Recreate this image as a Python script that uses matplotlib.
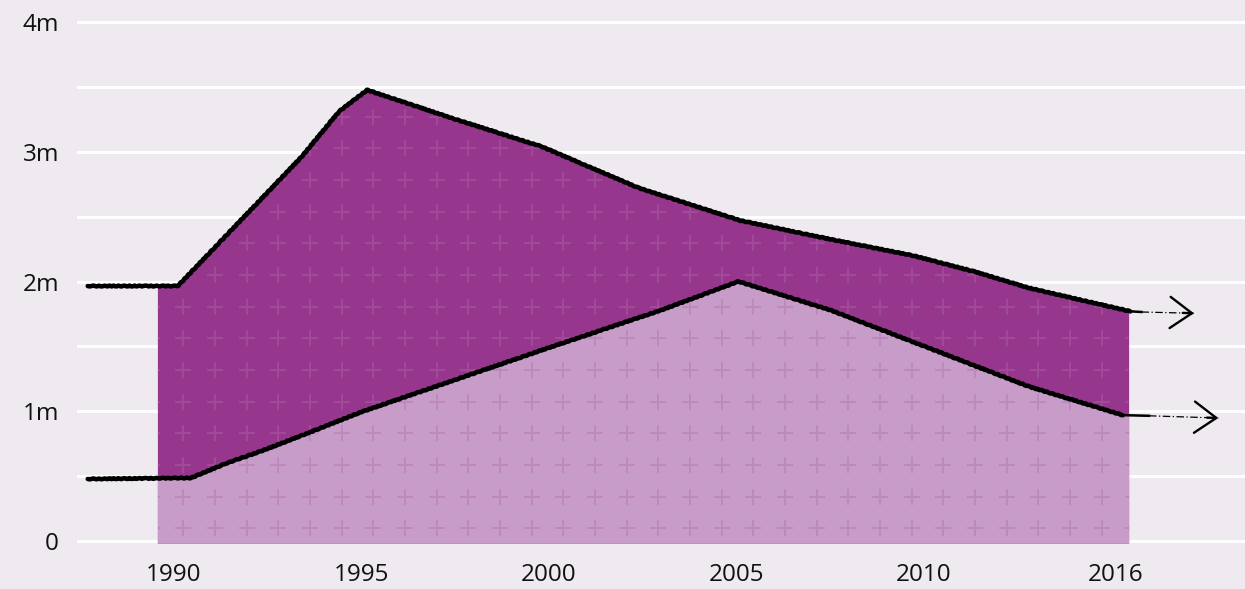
import numpy as np
import matplotlib
matplotlib.use('Agg')
import matplotlib.pyplot as plt
from matplotlib.path import Path
from matplotlib.patches import PathPatch

# data (millions)
upper_years = [1987.7, 1990.1, 1993.4, 1994.4, 1995.15, 1997.4, 1999.8, 2002.4, 2005.1, 2007.6, 2009.7, 2011.3, 2012.8, 2015.5]
upper_vals = [1.965, 1.965, 2.96, 3.31, 3.476, 3.26, 3.04, 2.72, 2.47, 2.32, 2.20, 2.08, 1.95, 1.77]
lower_years = [1987.7, 1990.45, 1991.4, 1992.3, 1993.6, 1995.0, 2000.0, 2003.0, 2005.05, 2007.5, 2010.15, 2012.8, 2015.3]
lower_vals = [0.478, 0.486, 0.60, 0.69, 0.835, 0.995, 1.49, 1.78, 2.0, 1.78, 1.485, 1.19, 0.97]
# projection arrows
upper_tail_years = [2015.5, 2015.8, 2017.2]
upper_tail_vals = [1.77, 1.765, 1.755]
lower_tail_years = [2015.3, 2016.0, 2017.85]
lower_tail_vals = [0.97, 0.965, 0.948]

fill_start, fill_end = 1989.57, 2015.47
tick_pos = [1990, 1995, 2000, 2005, 2010, 2015.1]
tick_labels = ['1990', '1995', '2000', '2005', '2010', '2016']
y_ticks = [0, 1, 2, 3, 4]
y_labels = ['0', '1m', '2m', '3m', '4m']

BG = '#efeaf0'
DARK = '#96368c'
LIGHT = '#c79cc9'
CROSS = '#af6cac'

plt.rcParams['font.family'] = ['Open Sans', 'DejaVu Sans']

fig = plt.figure(figsize=(12.45, 5.89), dpi=100, facecolor=BG)
ax = fig.add_axes([77/1245, 44.1/589, 1 - 77/1245, 526.8/589])
ax.set_facecolor(BG)
ax.set_xlim(1987.413, 2018.56)
ax.set_ylim(-0.03, 4.03)


def area_path(xs, ys, x0, x1, base=-0.02):
    xs = np.asarray(xs, float)
    ys = np.asarray(ys, float)
    inside = (xs > x0) & (xs < x1)
    vx = [x0, x0] + list(xs[inside]) + [x1, x1]
    vy = [base, np.interp(x0, xs, ys)] + list(ys[inside]) + [np.interp(x1, xs, ys), base]
    return Path(np.column_stack([vx, vy]))


dark_path = area_path(upper_years, upper_vals, fill_start, fill_end)
light_path = area_path(lower_years, lower_vals, fill_start, fill_end)
dark = PathPatch(dark_path, facecolor=DARK, edgecolor='none', zorder=2)
light = PathPatch(light_path, facecolor=LIGHT, edgecolor='none', zorder=3)
ax.add_patch(dark)
ax.add_patch(light)

# "+" pattern on the areas
cx = np.arange(1990.25 - 0.8444, fill_end + 0.5, 0.8444)
cy = np.arange(0.098, 3.7, 0.2441)
gx, gy = np.meshgrid(cx, cy)
crosses = ax.scatter(gx.ravel(), gy.ravel(), marker='+', s=125, linewidths=1.3,
                     color=CROSS, alpha=0.4, zorder=4)
crosses.set_clip_path(dark)

# hand drawn looking lines
for xs, ys in [(upper_years, upper_vals), (lower_years, lower_vals)]:
    l1, = ax.plot(xs, ys, color='black', lw=3.3, solid_capstyle='round',
                  solid_joinstyle='round', zorder=5)
    l1.set_sketch_params(0.4, 6, 2)
    l2, = ax.plot(xs, ys, color='black', lw=1.0, solid_capstyle='round', zorder=5)
    l2.set_sketch_params(1.1, 5, 2)

for xs, ys in [(upper_tail_years, upper_tail_vals), (lower_tail_years, lower_tail_vals)]:
    ax.plot(xs[:2], ys[:2], color='black', lw=1.8, zorder=5)
    ax.plot(xs[1:], ys[1:], color='black', lw=0.9, ls=(0, (6, 2, 1, 2)), zorder=5)
    ax.annotate('', xy=(xs[-1], ys[-1]), xytext=(xs[-1] - 0.3, ys[-1] + 0.003),
                arrowprops=dict(arrowstyle='->,head_length=1.05,head_width=0.75',
                                lw=1.7, color='black', mutation_scale=15,
                                shrinkA=0, shrinkB=0),
                zorder=6)

ax.set_yticks(y_ticks)
ax.set_yticklabels(y_labels)
ax.set_yticks(np.arange(0.5, 4, 1.0), minor=True)
ax.set_xticks(tick_pos)
ax.set_xticklabels(tick_labels)
ax.grid(True, which='both', axis='y', color='white', lw=2.2)
ax.set_axisbelow(True)
ax.tick_params(axis='both', which='both', length=0, labelsize=17.5, colors='#111111')
ax.tick_params(axis='y', pad=13)
ax.tick_params(axis='x', pad=13)
for s in ax.spines.values():
    s.set_visible(False)

fig.savefig('out.png', dpi=100, facecolor=BG)
